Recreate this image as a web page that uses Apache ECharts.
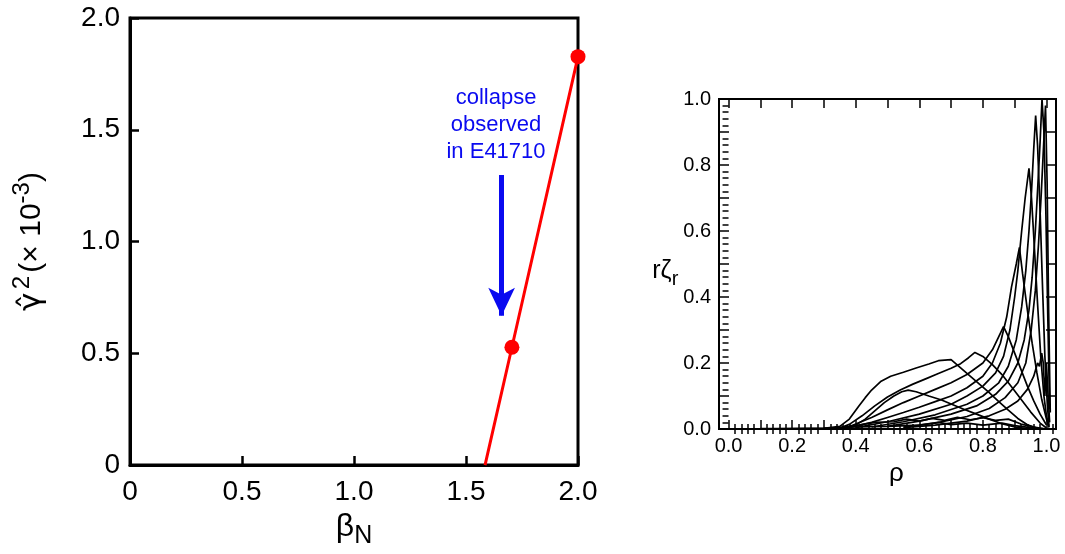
<!DOCTYPE html>
<html>
<head>
<meta charset="utf-8">
<script src="https://cdn.jsdelivr.net/npm/echarts@6/dist/echarts.min.js"></script>
<style>
html,body{margin:0;padding:0;background:#fff;}
#chart{width:1065px;height:554px;}
</style>
</head>
<body>
<div id="chart"></div>
<script>
// ---- Left panel data ----
const betaN = [1.585, 1.705, 2.0];
const gammaSq = [0, 0.527, 1.827];
const dotBeta = [1.705, 2.0];
const dotGamma = [0.527, 1.827];
const arrowBeta = 1.659;
const arrowFrom = 1.298;
const arrowTo = 0.668;
const noteBeta = 1.634;
const noteGamma = 1.52;
const noteText = 'collapse\nobserved\nin E41710';

// ---- Right panel data: r*zeta_r profiles vs rho ----
const profile1 = [[0.36,0.002],[0.40,0.012],[0.43,0.03],[0.46,0.055],[0.49,0.08],[0.52,0.1],[0.545,0.113],[0.565,0.118],[0.59,0.113],[0.63,0.1],[0.67,0.088],[0.70,0.076],[0.74,0.06],[0.78,0.045],[0.82,0.03],[0.86,0.016],[0.90,0.006],[0.94,0.001]];
const profile2 = [[0.10,0.001],[0.30,0.002],[0.35,0.008],[0.38,0.03],[0.41,0.07],[0.43,0.095],[0.45,0.118],[0.48,0.145],[0.51,0.16],[0.55,0.172],[0.59,0.185],[0.63,0.197],[0.66,0.207],[0.70,0.21],[0.73,0.185],[0.76,0.16],[0.79,0.135],[0.82,0.11],[0.85,0.083],[0.88,0.057],[0.91,0.032],[0.94,0.013],[0.97,0.003]];
const profile3 = [[0.35,0.003],[0.38,0.014],[0.42,0.04],[0.46,0.07],[0.50,0.097],[0.54,0.118],[0.58,0.136],[0.62,0.152],[0.66,0.168],[0.70,0.184],[0.73,0.198],[0.755,0.216],[0.775,0.232],[0.80,0.22],[0.83,0.195],[0.86,0.165],[0.89,0.128],[0.92,0.09],[0.95,0.052],[0.98,0.018],[1.0,0.003]];
const profile4 = [[0.37,0.004],[0.40,0.015],[0.45,0.035],[0.50,0.058],[0.55,0.08],[0.60,0.1],[0.65,0.12],[0.70,0.14],[0.75,0.165],[0.80,0.2],[0.83,0.24],[0.85,0.28],[0.865,0.31],[0.88,0.28],[0.90,0.23],[0.92,0.18],[0.94,0.13],[0.96,0.085],[0.98,0.045],[1.0,0.012]];
const profile5 = [[0.38,0.004],[0.45,0.02],[0.50,0.035],[0.55,0.05],[0.60,0.066],[0.65,0.083],[0.70,0.1],[0.75,0.125],[0.80,0.16],[0.83,0.2],[0.855,0.26],[0.875,0.34],[0.89,0.43],[0.905,0.5],[0.915,0.55],[0.925,0.47],[0.94,0.36],[0.955,0.26],[0.97,0.17],[0.985,0.09],[1.0,0.03],[1.008,0.005]];
const profile6 = [[0.40,0.004],[0.50,0.022],[0.60,0.045],[0.70,0.075],[0.75,0.1],[0.80,0.13],[0.84,0.17],[0.865,0.22],[0.885,0.3],[0.90,0.4],[0.91,0.48],[0.922,0.6],[0.933,0.7],[0.945,0.79],[0.953,0.7],[0.962,0.55],[0.972,0.38],[0.982,0.22],[0.992,0.1],[1.0,0.04],[1.008,0.005]];
const profile7 = [[0.45,0.006],[0.55,0.022],[0.65,0.043],[0.75,0.075],[0.80,0.1],[0.85,0.14],[0.88,0.19],[0.905,0.27],[0.922,0.37],[0.935,0.48],[0.945,0.6],[0.953,0.72],[0.96,0.85],[0.966,0.95],[0.972,0.86],[0.98,0.66],[0.988,0.42],[0.995,0.22],[1.003,0.07],[1.008,0.01]];
const profile8 = [[0.50,0.008],[0.60,0.024],[0.70,0.045],[0.78,0.07],[0.84,0.105],[0.88,0.145],[0.91,0.2],[0.93,0.27],[0.945,0.36],[0.955,0.46],[0.965,0.6],[0.973,0.74],[0.98,0.87],[0.986,1.0],[0.992,0.9],[0.998,0.66],[1.004,0.35],[1.01,0.06]];
const profile9 = [[0.55,0.006],[0.65,0.018],[0.75,0.038],[0.82,0.062],[0.87,0.095],[0.91,0.14],[0.935,0.2],[0.952,0.3],[0.965,0.42],[0.975,0.56],[0.984,0.72],[0.991,0.86],[0.997,0.98],[1.002,0.75],[1.007,0.35],[1.012,0.05]];
const profile10 = [[0.55,0.004],[0.65,0.012],[0.75,0.024],[0.82,0.04],[0.87,0.06],[0.91,0.085],[0.94,0.12],[0.96,0.16],[0.972,0.2],[0.978,0.19],[0.985,0.23],[0.99,0.2],[0.995,0.1],[1.0,0.2],[1.004,0.12],[1.01,0.02]];
const profile11 = [[0.34,0.003],[0.40,0.01],[0.46,0.02],[0.52,0.022],[0.56,0.03],[0.60,0.024],[0.64,0.032],[0.68,0.026],[0.72,0.035],[0.76,0.028],[0.80,0.034],[0.84,0.026],[0.88,0.03],[0.92,0.015],[0.96,0.006],[1.0,0]];
const profile12 = [[0.10,0.0],[0.30,0.003],[0.40,0.006],[0.50,0.008],[0.60,0.012],[0.66,0.02],[0.70,0.013],[0.75,0.018],[0.80,0.012],[0.86,0.018],[0.90,0.01],[0.95,0.004],[1.0,0]];
const profiles = [profile1,profile2,profile3,profile4,profile5,profile6,profile7,profile8,profile9,profile10,profile11,profile12];

// ---- Tick values ----
const leftTicks = [0, 0.5, 1.0, 1.5, 2.0];
const rightXLabels = [0, 0.2, 0.4, 0.6, 0.8, 1.0];
const rightXMajor = [0,0.1,0.2,0.3,0.4,0.5,0.6,0.7,0.8,0.9,1.0];
const rightXMinor = [0.02,0.04,0.06,0.08,0.12,0.14,0.16,0.18,0.22,0.24,0.26,0.28,0.32,0.34,0.36,0.38,0.42,0.44,0.46,0.48,0.52,0.54,0.56,0.58,0.62,0.64,0.66,0.68,0.72,0.74,0.76,0.78,0.82,0.84,0.86,0.88,0.92,0.94,0.96,0.98,1.02];
const rightYLabels = [0, 0.2, 0.4, 0.6, 0.8, 1.0];
const rightYMajor = [0,0.1,0.2,0.3,0.4,0.5,0.6,0.7,0.8,0.9,1.0];
const rightYMinor = [0.02,0.04,0.06,0.08,0.12,0.14,0.16,0.18,0.22,0.24,0.26,0.28,0.32,0.34,0.36,0.38,0.42,0.44,0.46,0.48,0.52,0.54,0.56,0.58,0.62,0.64,0.66,0.68,0.72,0.74,0.76,0.78,0.82,0.84,0.86,0.88,0.92,0.94,0.96,0.98];

const FF = '"Liberation Sans", Arial, Helvetica, sans-serif';
const FG = '"DejaVu Sans", "Liberation Sans", sans-serif';
const BLUE = '#0a0af0';

const chart = echarts.init(document.getElementById('chart'), null, {renderer:'canvas'});

function fmt1(v){ return v === 0 ? '0' : v.toFixed(1); }
function fmtR(v){ return v.toFixed(1); }

const rxMin = -0.03, rxMax = 1.03;

function rxAxis(extra){
  return Object.assign({
    type:'value', gridIndex:1, min:rxMin, max:rxMax,
    splitLine:{show:false},
    axisLine:{show:false},
    axisLabel:{show:false},
    axisTick:{show:false}
  }, extra);
}
function ryAxis(extra){
  return Object.assign({
    type:'value', gridIndex:1, min:0, max:1,
    splitLine:{show:false},
    axisLine:{show:false},
    axisLabel:{show:false},
    axisTick:{show:false}
  }, extra);
}

const option = {
  animation:false,
  backgroundColor:'#fff',
  grid:[
    {left:130, top:18, width:448, height:452, show:true, borderColor:'#000', borderWidth:3, backgroundColor:'transparent'},
    {left:719, top:99, width:337, height:330, show:true, borderColor:'#000', borderWidth:2, backgroundColor:'transparent'}
  ],
  xAxis:[
    {
      type:'value', gridIndex:0, min:0, max:2, interval:0.5,
      splitLine:{show:false},
      axisLine:{show:true, lineStyle:{color:'#000', width:3}},
      axisTick:{show:true, inside:true, length:9, lineStyle:{color:'#000', width:2.5}},
      axisLabel:{formatter:fmt1, fontSize:28, color:'#000', fontFamily:FF, margin:13,
        customValues: leftTicks},
      name:'{b|β}{sub|N}', nameLocation:'middle', nameGap:36,
      nameTextStyle:{color:'#000', fontFamily:FF,
        rich:{b:{fontSize:32, lineHeight:44, fontFamily:FF, color:'#000'},
              sub:{fontSize:25, lineHeight:44, verticalAlign:'bottom', fontFamily:FF, color:'#000'}}}
    },
    rxAxis({position:'bottom',
      axisLine:{show:true, onZero:false, lineStyle:{color:'#000', width:2}},
      axisTick:{show:true, inside:true, length:9, customValues:rightXMajor, lineStyle:{color:'#000', width:1.5}},
      axisLabel:{show:true, customValues:rightXLabels, formatter:fmtR, fontSize:20, color:'#000', fontFamily:FF, margin:7},
      name:'ρ', nameLocation:'middle', nameGap:19,
      nameTextStyle:{fontSize:26, color:'#000', fontFamily:FF, padding:[0,0,0,18]}
    }),
    rxAxis({position:'bottom',
      axisTick:{show:true, inside:true, length:5, customValues:rightXMinor, lineStyle:{color:'#000', width:1.5}}
    }),
    rxAxis({position:'top',
      axisLine:{show:true, onZero:false, lineStyle:{color:'#000', width:2}},
      axisTick:{show:true, inside:true, length:9, customValues:rightXMajor, lineStyle:{color:'#000', width:1.5}}
    }),
    rxAxis({position:'top',
      axisTick:{show:true, inside:true, length:5, customValues:rightXMinor, lineStyle:{color:'#000', width:1.5}}
    })
  ],
  yAxis:[
    {
      type:'value', gridIndex:0, min:0, max:2, interval:0.5,
      splitLine:{show:false},
      axisLine:{show:true, lineStyle:{color:'#000', width:3}},
      axisTick:{show:true, inside:true, length:9, lineStyle:{color:'#000', width:2.5}},
      axisLabel:{formatter:fmt1, fontSize:28, color:'#000', fontFamily:FF, margin:10,
        customValues: leftTicks},
      name:'{g|γ̂} {s|2} {n|(× 10}{s|-3}{n|)}', nameLocation:'middle', nameGap:76, nameRotate:90,
      nameTextStyle:{color:'#000', fontFamily:FF,
        rich:{g:{fontSize:31, lineHeight:44, fontFamily:FG, color:'#000'},
              s:{fontSize:24, lineHeight:44, verticalAlign:'top', fontFamily:FF, color:'#000'},
              n:{fontSize:30, lineHeight:44, fontFamily:FF, color:'#000'}}}
    },
    ryAxis({position:'left',
      axisLine:{show:true, onZero:false, lineStyle:{color:'#000', width:2}},
      axisTick:{show:true, inside:true, length:10, customValues:rightYMajor, lineStyle:{color:'#000', width:1.5}},
      axisLabel:{show:true, customValues:rightYLabels, formatter:fmtR, fontSize:20, color:'#000', fontFamily:FF, margin:8},
      name:'{r|r}{z|ζ}{sub|r}', nameLocation:'middle', nameGap:40, nameRotate:0,
      nameTextStyle:{color:'#000', fontFamily:FF, padding:[14,0,0,0],
        rich:{r:{fontSize:25, lineHeight:36, fontFamily:FF, color:'#000'},
              z:{fontSize:25, lineHeight:36, fontFamily:FF, color:'#000'},
              sub:{fontSize:20, lineHeight:36, verticalAlign:'bottom', fontFamily:FF, color:'#000'}}}
    }),
    ryAxis({position:'right',
      axisLine:{show:true, onZero:false, lineStyle:{color:'#000', width:2}},
      axisTick:{show:true, inside:true, length:10, customValues:rightYMajor, lineStyle:{color:'#000', width:1.5}}
    }),
    ryAxis({position:'right',
      axisTick:{show:true, inside:true, length:6, customValues:rightYMinor, lineStyle:{color:'#000', width:1.5}}
    })
  ],
  series:[
    {
      type:'line', xAxisIndex:0, yAxisIndex:0,
      data: betaN.map((b,i)=>[b, gammaSq[i]]),
      showSymbol:false, symbol:'none',
      lineStyle:{color:'#ff0000', width:3},
      z:3,
      markLine:{
        silent:true, symbol:['none','arrow'], symbolSize:[20,28],
        lineStyle:{color:BLUE, width:5, type:'solid', opacity:1},
        itemStyle:{color:BLUE},
        label:{show:false},
        data:[[{coord:[arrowBeta, arrowFrom]},{coord:[arrowBeta, arrowTo]}]]
      },
      markPoint:{
        silent:true, symbol:'circle', symbolSize:1,
        itemStyle:{color:'rgba(0,0,0,0)'},
        label:{show:true, position:'inside', formatter:noteText, color:BLUE, fontSize:22, lineHeight:27, fontFamily:FF, align:'center'},
        data:[{coord:[noteBeta, noteGamma]}]
      }
    },
    {
      type:'scatter', xAxisIndex:0, yAxisIndex:0,
      data: dotBeta.map((b,i)=>[b, dotGamma[i]]),
      symbol:'circle', symbolSize:15,
      itemStyle:{color:'#ff0000', opacity:1},
      clip:false, z:4
    }
  ].concat(profiles.map(p => ({
    type:'line', xAxisIndex:1, yAxisIndex:1,
    data:p, showSymbol:false, symbol:'none',
    lineStyle:{color:'#000', width:1.7},
    clip:true, z:2
  })))
};

chart.setOption(option);
</script>
</body>
</html>
